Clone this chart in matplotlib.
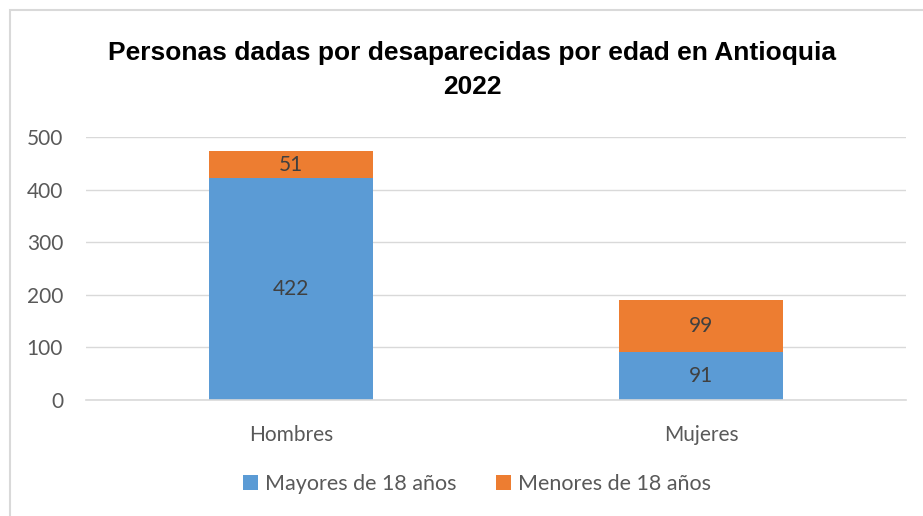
import matplotlib.pyplot as plt
from matplotlib.patches import Rectangle

categorias = ['Hombres', 'Mujeres']
mayores = [422, 91]
menores = [51, 99]
series = ['Mayores de 18 años', 'Menores de 18 años']

azul = '#5B9BD5'
naranja = '#ED7D31'

plt.rcParams['font.family'] = ['Lato', 'DejaVu Sans']

fig = plt.figure(figsize=(9.23, 5.16), dpi=100)
fig.patches.append(Rectangle((10 / 923, -0.1), 1.2, 1 - 10 / 516 + 0.1,
                             transform=fig.transFigure, fill=False,
                             edgecolor='#D9D9D9', linewidth=1.5))

ax = fig.add_axes([86 / 923, 116 / 516, 820 / 923, 263 / 516])
x = range(len(categorias))
b1 = ax.bar(x, mayores, width=0.4, color=azul, label=series[0], zorder=2)
b2 = ax.bar(x, menores, width=0.4, bottom=mayores, color=naranja,
            label=series[1], zorder=2)

for bars, vals, bases in [(b1, mayores, [0, 0]), (b2, menores, mayores)]:
    for r, v, b in zip(bars, vals, bases):
        ax.text(r.get_x() + r.get_width() / 2, b + v / 2, str(v),
                ha='center', va='center', fontsize=15, color='#404040')

ax.set_xlim(-0.5, 1.5)
ax.set_ylim(0, 500)
ax.set_yticks(range(0, 501, 100))
ax.set_xticks(list(x))
ax.set_xticklabels(categorias)
ax.grid(axis='y', color='#D9D9D9', linewidth=1, zorder=0)
for s in ['top', 'right', 'left']:
    ax.spines[s].set_visible(False)
ax.spines['bottom'].set_color('#D9D9D9')
ax.spines['bottom'].set_linewidth(1.2)
ax.tick_params(axis='both', length=0, labelsize=15, labelcolor='#595959')
ax.tick_params(axis='x', pad=18)
ax.tick_params(axis='y', pad=16.5)

fig.text(472 / 923, 1 - 70 / 516,
         'Personas dadas por desaparecidas por edad en Antioquia\n2022',
         ha='center', va='center', fontsize=19, fontweight='bold',
         family=['Liberation Sans', 'DejaVu Sans'],
         linespacing=1.55)

fig.legend(loc='center', bbox_to_anchor=(477 / 923, 1 - 484 / 516),
           ncol=2, frameon=False, fontsize=15.5, handlelength=0.7,
           handleheight=0.7, columnspacing=1.8, handletextpad=0.35,
           labelcolor='#595959')

fig.savefig('out.png', dpi=100)
